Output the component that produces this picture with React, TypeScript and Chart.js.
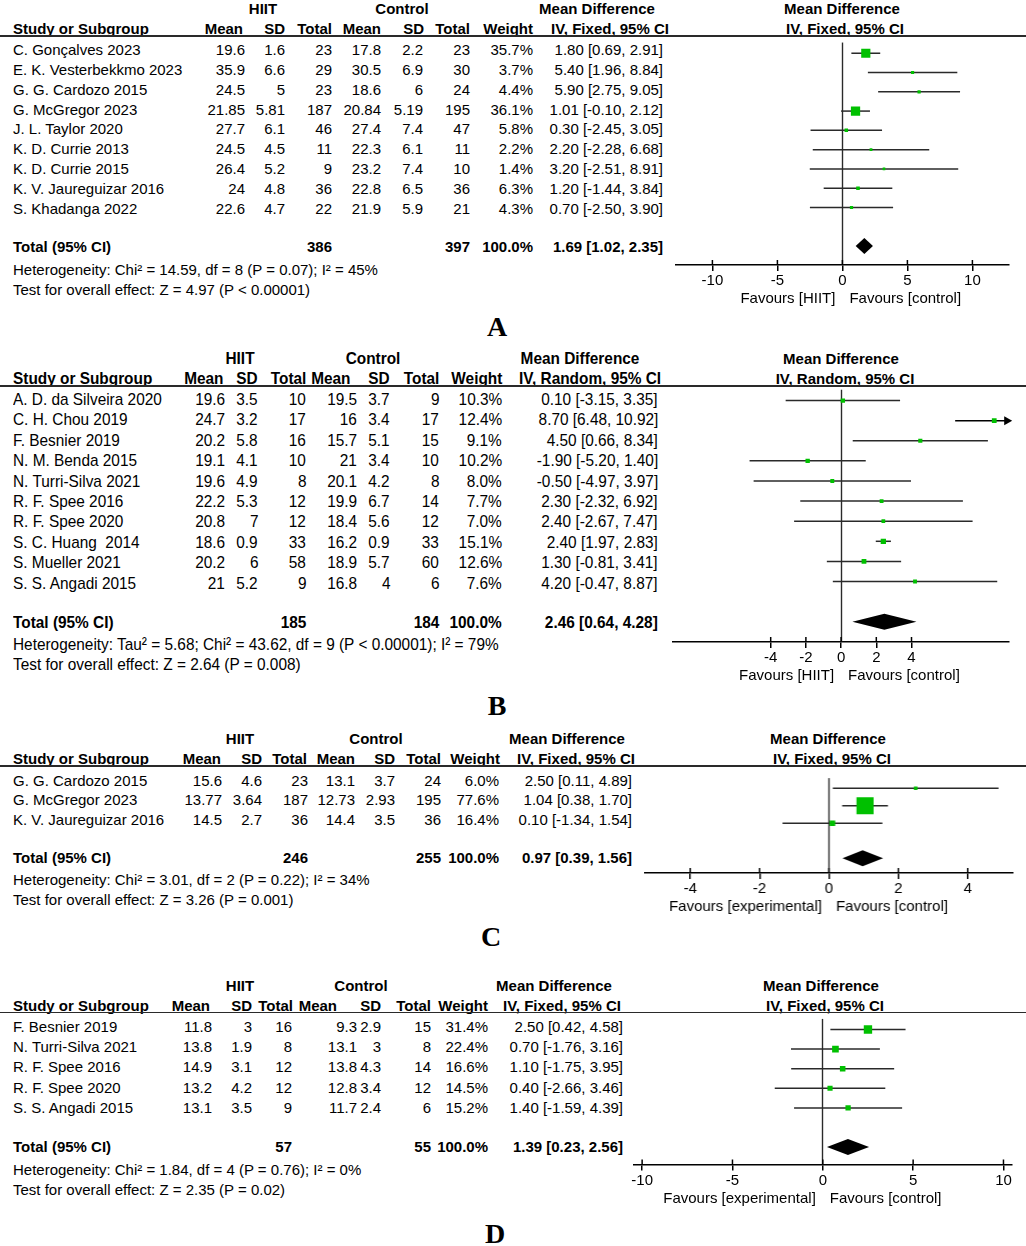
import React, { useEffect, useRef } from "react";
import { Chart, registerables } from "chart.js";

Chart.register(...registerables);

const W = 1026;
const H = 1246;
const SANS = '"Liberation Sans", Arial, Helvetica, sans-serif';
const SERIF = '"Liberation Serif", "Times New Roman", serif';
const GREEN = "#00c000";
const INK = "#2a2a2a";

// ---------------- Panel A ----------------
const A_STUDIES = [
  "C. Gonçalves 2023",
  "E. K. Vesterbekkmo 2023",
  "G. G. Cardozo 2015",
  "G. McGregor 2023",
  "J. L. Taylor 2020",
  "K. D. Currie 2013",
  "K. D. Currie 2015",
  "K. V. Jaureguizar 2016",
  "S. Khadanga 2022",
];
const A_HIIT_MEAN = [19.6, 35.9, 24.5, 21.85, 27.7, 24.5, 26.4, 24, 22.6];
const A_HIIT_SD = [1.6, 6.6, 5, 5.81, 6.1, 4.5, 5.2, 4.8, 4.7];
const A_HIIT_N = [23, 29, 23, 187, 46, 11, 9, 36, 22];
const A_CTRL_MEAN = [17.8, 30.5, 18.6, 20.84, 27.4, 22.3, 23.2, 22.8, 21.9];
const A_CTRL_SD = [2.2, 6.9, 6, 5.19, 7.4, 6.1, 7.4, 6.5, 5.9];
const A_CTRL_N = [23, 30, 24, 195, 47, 11, 10, 36, 21];
const A_WEIGHT = [35.7, 3.7, 4.4, 36.1, 5.8, 2.2, 1.4, 6.3, 4.3];
const A_MD = [1.8, 5.4, 5.9, 1.01, 0.3, 2.2, 3.2, 1.2, 0.7];
const A_LO = [0.69, 1.96, 2.75, -0.1, -2.45, -2.28, -2.51, -1.44, -2.5];
const A_HI = [2.91, 8.84, 9.05, 2.12, 3.05, 6.68, 8.91, 3.84, 3.9];
const A_TOTAL_N = [386, 397];
const A_POOLED = [1.69, 1.02, 2.35];
const A_TICKS = [-10, -5, 0, 5, 10];
const A_RANGE = [-12.8, 12.8];
const A_METHOD = "IV, Fixed, 95% CI";
const A_FAVOURS = ["Favours [HIIT]", "Favours [control]"];
const A_HET = "Heterogeneity: Chi² = 14.59, df = 8 (P = 0.07); I² = 45%";
const A_TEST = "Test for overall effect: Z = 4.97 (P < 0.00001)";

// ---------------- Panel B ----------------
const B_STUDIES = [
  "A. D. da Silveira 2020",
  "C. H. Chou 2019",
  "F. Besnier 2019",
  "N. M. Benda 2015",
  "N. Turri-Silva 2021",
  "R. F. Spee 2016",
  "R. F. Spee 2020",
  "S. C. Huang  2014",
  "S. Mueller 2021",
  "S. S. Angadi 2015",
];
const B_HIIT_MEAN = [19.6, 24.7, 20.2, 19.1, 19.6, 22.2, 20.8, 18.6, 20.2, 21];
const B_HIIT_SD = [3.5, 3.2, 5.8, 4.1, 4.9, 5.3, 7, 0.9, 6, 5.2];
const B_HIIT_N = [10, 17, 16, 10, 8, 12, 12, 33, 58, 9];
const B_CTRL_MEAN = [19.5, 16, 15.7, 21, 20.1, 19.9, 18.4, 16.2, 18.9, 16.8];
const B_CTRL_SD = [3.7, 3.4, 5.1, 3.4, 4.2, 6.7, 5.6, 0.9, 5.7, 4];
const B_CTRL_N = [9, 17, 15, 10, 8, 14, 12, 33, 60, 6];
const B_WEIGHT = [10.3, 12.4, 9.1, 10.2, 8.0, 7.7, 7.0, 15.1, 12.6, 7.6];
const B_MD = [0.1, 8.7, 4.5, -1.9, -0.5, 2.3, 2.4, 2.4, 1.3, 4.2];
const B_LO = [-3.15, 6.48, 0.66, -5.2, -4.97, -2.32, -2.67, 1.97, -0.81, -0.47];
const B_HI = [3.35, 10.92, 8.34, 1.4, 3.97, 6.92, 7.47, 2.83, 3.41, 8.87];
const B_TOTAL_N = [185, 184];
const B_POOLED = [2.46, 0.64, 4.28];
const B_TICKS = [-4, -2, 0, 2, 4];
const B_RANGE = [-9.55, 9.55];
const B_METHOD = "IV, Random, 95% CI";
const B_FAVOURS = ["Favours [HIIT]", "Favours [control]"];
const B_HET = "Heterogeneity: Tau² = 5.68; Chi² = 43.62, df = 9 (P < 0.00001); I² = 79%";
const B_TEST = "Test for overall effect: Z = 2.64 (P = 0.008)";

// ---------------- Panel C ----------------
const C_STUDIES = ["G. G. Cardozo 2015", "G. McGregor 2023", "K. V. Jaureguizar 2016"];
const C_HIIT_MEAN = [15.6, 13.77, 14.5];
const C_HIIT_SD = [4.6, 3.64, 2.7];
const C_HIIT_N = [23, 187, 36];
const C_CTRL_MEAN = [13.1, 12.73, 14.4];
const C_CTRL_SD = [3.7, 2.93, 3.5];
const C_CTRL_N = [24, 195, 36];
const C_WEIGHT = [6.0, 77.6, 16.4];
const C_MD = [2.5, 1.04, 0.1];
const C_LO = [0.11, 0.38, -1.34];
const C_HI = [4.89, 1.7, 1.54];
const C_TOTAL_N = [246, 255];
const C_POOLED = [0.97, 0.39, 1.56];
const C_TICKS = [-4, -2, 0, 2, 4];
const C_RANGE = [-5.3, 5.3];
const C_METHOD = "IV, Fixed, 95% CI";
const C_FAVOURS = ["Favours [experimental]", "Favours [control]"];
const C_HET = "Heterogeneity: Chi² = 3.01, df = 2 (P = 0.22); I² = 34%";
const C_TEST = "Test for overall effect: Z = 3.26 (P = 0.001)";

// ---------------- Panel D ----------------
const D_STUDIES = [
  "F. Besnier 2019",
  "N. Turri-Silva 2021",
  "R. F. Spee 2016",
  "R. F. Spee 2020",
  "S. S. Angadi 2015",
];
const D_HIIT_MEAN = [11.8, 13.8, 14.9, 13.2, 13.1];
const D_HIIT_SD = [3, 1.9, 3.1, 4.2, 3.5];
const D_HIIT_N = [16, 8, 12, 12, 9];
const D_CTRL_MEAN = [9.3, 13.1, 13.8, 12.8, 11.7];
const D_CTRL_SD = [2.9, 3, 4.3, 3.4, 2.4];
const D_CTRL_N = [15, 8, 14, 12, 6];
const D_WEIGHT = [31.4, 22.4, 16.6, 14.5, 15.2];
const D_MD = [2.5, 0.7, 1.1, 0.4, 1.4];
const D_LO = [0.42, -1.76, -1.75, -2.66, -1.59];
const D_HI = [4.58, 3.16, 3.95, 3.46, 4.39];
const D_TOTAL_N = [57, 55];
const D_POOLED = [1.39, 0.23, 2.56];
const D_TICKS = [-10, -5, 0, 5, 10];
const D_RANGE = [-10.45, 10.45];
const D_METHOD = "IV, Fixed, 95% CI";
const D_FAVOURS = ["Favours [experimental]", "Favours [control]"];
const D_HET = "Heterogeneity: Chi² = 1.84, df = 4 (P = 0.76); I² = 0%";
const D_TEST = "Test for overall effect: Z = 2.35 (P = 0.02)";

const COL_HEADERS = ["Mean", "SD", "Total", "Mean", "SD", "Total", "Weight"];

type Layout = {
  lineY: number;
  row0: number;
  step: number;
  axisY: number;
  axisL: number;
  axisR: number;
  hiitX: number;
  ctrlX: number;
  mdX: number;
  ivX: number;
  plotMdX: number;
  plotIvX: number;
  hdrRight: number[];
  valRight: number[];
  letter: string;
  letterX: number;
  letterY: number;
  condensed: boolean;
};

type Panel = {
  studies: string[];
  hm: number[];
  hs: number[];
  hn: number[];
  cm: number[];
  cs: number[];
  cn: number[];
  w: number[];
  md: number[];
  lo: number[];
  hi: number[];
  totalN: number[];
  pooled: number[];
  ticks: number[];
  range: number[];
  method: string;
  favours: string[];
  het: string;
  test: string;
  L: Layout;
};

const PANELS: Panel[] = [
  {
    studies: A_STUDIES, hm: A_HIIT_MEAN, hs: A_HIIT_SD, hn: A_HIIT_N,
    cm: A_CTRL_MEAN, cs: A_CTRL_SD, cn: A_CTRL_N, w: A_WEIGHT,
    md: A_MD, lo: A_LO, hi: A_HI, totalN: A_TOTAL_N, pooled: A_POOLED,
    ticks: A_TICKS, range: A_RANGE, method: A_METHOD, favours: A_FAVOURS,
    het: A_HET, test: A_TEST,
    L: {
      lineY: 36, row0: 47, step: 19.85, axisY: 265, axisL: 675.6, axisR: 1008.4,
      hiitX: 263, ctrlX: 402, mdX: 597, ivX: 610, plotMdX: 842, plotIvX: 845,
      hdrRight: [243, 285, 332, 381, 424, 470, 533],
      valRight: [245, 285, 332, 381, 423, 470, 533, 663],
      letter: "A", letterX: 497, letterY: 327, condensed: false,
    },
  },
  {
    studies: B_STUDIES, hm: B_HIIT_MEAN, hs: B_HIIT_SD, hn: B_HIIT_N,
    cm: B_CTRL_MEAN, cs: B_CTRL_SD, cn: B_CTRL_N, w: B_WEIGHT,
    md: B_MD, lo: B_LO, hi: B_HI, totalN: B_TOTAL_N, pooled: B_POOLED,
    ticks: B_TICKS, range: B_RANGE, method: B_METHOD, favours: B_FAVOURS,
    het: B_HET, test: B_TEST,
    L: {
      lineY: 386, row0: 397, step: 20.4, axisY: 642, axisL: 672.9, axisR: 1009.1,
      hiitX: 240, ctrlX: 373, mdX: 580, ivX: 590, plotMdX: 841, plotIvX: 845,
      hdrRight: [223, 258, 306, 350, 390, 439, 502],
      valRight: [225, 258, 306, 357, 390, 439, 502, 658],
      letter: "B", letterX: 497, letterY: 706, condensed: true,
    },
  },
  {
    studies: C_STUDIES, hm: C_HIIT_MEAN, hs: C_HIIT_SD, hn: C_HIIT_N,
    cm: C_CTRL_MEAN, cs: C_CTRL_SD, cn: C_CTRL_N, w: C_WEIGHT,
    md: C_MD, lo: C_LO, hi: C_HI, totalN: C_TOTAL_N, pooled: C_POOLED,
    ticks: C_TICKS, range: C_RANGE, method: C_METHOD, favours: C_FAVOURS,
    het: C_HET, test: C_TEST,
    L: {
      lineY: 766, row0: 777.5, step: 19.7, axisY: 873, axisL: 645.1, axisR: 1011.9,
      hiitX: 240, ctrlX: 376, mdX: 567, ivX: 576, plotMdX: 828, plotIvX: 832,
      hdrRight: [221, 262, 307, 355, 395, 441, 500],
      valRight: [222, 262, 308, 355, 395, 441, 499, 632],
      letter: "C", letterX: 491, letterY: 937, condensed: false,
    },
  },
  {
    studies: D_STUDIES, hm: D_HIIT_MEAN, hs: D_HIIT_SD, hn: D_HIIT_N,
    cm: D_CTRL_MEAN, cs: D_CTRL_SD, cn: D_CTRL_N, w: D_WEIGHT,
    md: D_MD, lo: D_LO, hi: D_HI, totalN: D_TOTAL_N, pooled: D_POOLED,
    ticks: D_TICKS, range: D_RANGE, method: D_METHOD, favours: D_FAVOURS,
    het: D_HET, test: D_TEST,
    L: {
      lineY: 1012.5, row0: 1023.5, step: 20.4, axisY: 1164, axisL: 633.7, axisR: 1011.3,
      hiitX: 240, ctrlX: 361, mdX: 554, ivX: 562, plotMdX: 821, plotIvX: 825,
      hdrRight: [210, 252, 293, 337, 381, 431, 488],
      valRight: [212, 252, 292, 357, 381, 431, 488, 623],
      letter: "D", letterX: 495, letterY: 1234, condensed: false,
    },
  },
];

const PADL = 12;
const PADR = 18;
const BOTTOM_H = 46;
const ROW_TEXT_DY = 3;
const TOTAL_TEXT_DY = 1.5;

function fmtCI(md: number, lo: number, hi: number) {
  return `${md.toFixed(2)} [${lo.toFixed(2)}, ${hi.toFixed(2)}]`;
}

type TP = {
  x: number;
  y: number;
  text: string;
  align?: "left" | "right" | "center";
  bold?: boolean;
  size?: number;
  family?: string;
  sx?: number;
};

function T({ x, y, text, align = "left", bold = false, size = 15, family = SANS, sx = 1 }: TP) {
  const style: React.CSSProperties = {
    position: "absolute",
    top: y - 10,
    height: 20,
    lineHeight: "20px",
    whiteSpace: "pre",
    fontFamily: family,
    fontSize: size,
    fontWeight: bold ? "bold" : "normal",
    color: "#000",
  };
  const sc = sx !== 1 ? ` scaleX(${sx})` : "";
  if (align === "left") {
    style.left = x;
    if (sc) {
      style.transform = sc.trim();
      style.transformOrigin = "left center";
    }
  } else if (align === "right") {
    style.right = W - x;
    if (sc) {
      style.transform = sc.trim();
      style.transformOrigin = "right center";
    }
  } else {
    style.left = x;
    style.transform = "translateX(-50%)" + sc;
    style.transformOrigin = "center center";
  }
  return <div style={style}>{text}</div>;
}

function PanelText({ p }: { p: Panel }) {
  const L = p.L;
  const n = p.studies.length;
  const els: React.ReactNode[] = [];
  const gY = L.lineY - 27;
  const hY = L.lineY - 7;
  const tsize = L.condensed ? 17 : 15;
  const tsx = L.condensed ? 0.905 : 1;
  let k = 0;
  const add = (props: TP) => els.push(<T key={k++} {...props} />);
  const addT = (props: TP) => add({ size: tsize, sx: tsx, ...props });

  addT({ x: L.hiitX, y: gY, text: "HIIT", align: "center", bold: true });
  addT({ x: L.ctrlX, y: gY, text: "Control", align: "center", bold: true });
  addT({ x: L.mdX, y: gY, text: "Mean Difference", align: "center", bold: true });
  add({ x: L.plotMdX, y: gY, text: "Mean Difference", align: "center", bold: true });

  addT({ x: 13, y: hY, text: "Study or Subgroup", bold: true });
  COL_HEADERS.forEach((h, i) => addT({ x: L.hdrRight[i], y: hY, text: h, align: "right", bold: true }));
  addT({ x: L.ivX, y: hY, text: p.method, align: "center", bold: true });
  add({ x: L.plotIvX, y: hY, text: p.method, align: "center", bold: true });

  for (let i = 0; i < n; i++) {
    const y = L.row0 + i * L.step + ROW_TEXT_DY;
    const vals = [
      String(p.hm[i]),
      String(p.hs[i]),
      String(p.hn[i]),
      String(p.cm[i]),
      String(p.cs[i]),
      String(p.cn[i]),
      p.w[i].toFixed(1) + "%",
      fmtCI(p.md[i], p.lo[i], p.hi[i]),
    ];
    addT({ x: 13, y, text: p.studies[i] });
    vals.forEach((v, j) => addT({ x: L.valRight[j], y, text: v, align: "right" }));
  }

  const ty = L.row0 + (n + 1) * L.step + TOTAL_TEXT_DY;
  addT({ x: 13, y: ty, text: "Total (95% CI)", bold: true });
  addT({ x: L.valRight[2], y: ty, text: String(p.totalN[0]), align: "right", bold: true });
  addT({ x: L.valRight[5], y: ty, text: String(p.totalN[1]), align: "right", bold: true });
  addT({ x: L.valRight[6], y: ty, text: "100.0%", align: "right", bold: true });
  addT({
    x: L.valRight[7],
    y: ty,
    text: fmtCI(p.pooled[0], p.pooled[1], p.pooled[2]),
    align: "right",
    bold: true,
  });
  addT({ x: 13, y: ty + 22.5, text: p.het });
  addT({ x: 13, y: ty + 42.5, text: p.test });
  add({ x: L.letterX, y: L.letterY, text: L.letter, align: "center", bold: true, size: 28, family: SERIF });

  return (
    <>
      {els}
      <div
        style={{
          position: "absolute",
          left: 0,
          width: W,
          top: L.lineY - 0.75,
          height: 1.5,
          background: INK,
        }}
      />
    </>
  );
}

function Forest({ p }: { p: Panel }) {
  const ref = useRef<HTMLCanvasElement>(null);
  const L = p.L;
  const left = L.axisL - PADL;
  const width = L.axisR - L.axisL + PADL + PADR;
  const top = L.lineY;
  const height = L.axisY - L.lineY + BOTTOM_H;

  useEffect(() => {
    const n = p.md.length;
    const yTop = (L.lineY - L.row0) / L.step;
    const yBot = (L.axisY - L.row0) / L.step;

    const forestPlugin = {
      id: "forest",
      beforeDatasetsDraw(chart: any) {
        const { ctx, chartArea } = chart;
        const xs = chart.scales.x;
        const ys = chart.scales.y;
        const x0 = Math.floor(xs.getPixelForValue(0)) + 0.5;
        ctx.save();
        ctx.strokeStyle = INK;
        ctx.lineWidth = 1.4;
        ctx.beginPath();
        ctx.moveTo(x0, chartArea.top);
        ctx.lineTo(x0, chartArea.bottom);
        ctx.stroke();

        ctx.lineWidth = 1.5;
        for (let i = 0; i < n; i++) {
          const py = ys.getPixelForValue(i);
          const over = p.hi[i] > xs.max;
          const lo = Math.max(p.lo[i], xs.min);
          const hi = Math.min(p.hi[i], xs.max);
          const xl = xs.getPixelForValue(lo);
          const xr = xs.getPixelForValue(hi);
          ctx.strokeStyle = over ? "#000" : INK;
          ctx.beginPath();
          ctx.moveTo(xl, py);
          ctx.lineTo(over ? xr - 4 : xr, py);
          ctx.stroke();
          if (over) {
            ctx.fillStyle = "#000";
            ctx.beginPath();
            ctx.moveTo(xr + 3, py);
            ctx.lineTo(xr - 5, py - 4.5);
            ctx.lineTo(xr - 5, py + 4.5);
            ctx.closePath();
            ctx.fill();
          }
        }

        const ty = ys.getPixelForValue(n + 1);
        const [pm, pl, ph] = p.pooled;
        ctx.fillStyle = "#000";
        ctx.beginPath();
        ctx.moveTo(xs.getPixelForValue(pl), ty);
        ctx.lineTo(xs.getPixelForValue(pm), ty - 8);
        ctx.lineTo(xs.getPixelForValue(ph), ty);
        ctx.lineTo(xs.getPixelForValue(pm), ty + 8);
        ctx.closePath();
        ctx.fill();
        ctx.restore();
      },
      afterDraw(chart: any) {
        const { ctx, chartArea } = chart;
        const xs = chart.scales.x;
        const x0 = xs.getPixelForValue(0);
        ctx.save();
        ctx.strokeStyle = "#000";
        ctx.lineWidth = 1.5;
        xs.ticks.forEach((t: any) => {
          const px = xs.getPixelForValue(t.value);
          ctx.beginPath();
          ctx.moveTo(px, chartArea.bottom - 5);
          ctx.lineTo(px, chartArea.bottom);
          ctx.stroke();
        });
        ctx.fillStyle = "#000";
        ctx.font = `15px ${SANS}`;
        ctx.textBaseline = "middle";
        const fy = chartArea.bottom + 34;
        ctx.textAlign = "right";
        ctx.fillText(p.favours[0], x0 - 7, fy);
        ctx.textAlign = "left";
        ctx.fillText(p.favours[1], x0 + 7, fy);
        ctx.restore();
      },
    };

    const chart = new Chart(ref.current as HTMLCanvasElement, {
      type: "scatter",
      data: {
        datasets: [
          {
            data: p.md.map((v, i) => ({ x: v, y: i })),
            pointStyle: "rect",
            pointRadius: p.w.map((w) => (2.4 + 0.19 * w) / Math.SQRT2),
            pointHoverRadius: p.w.map((w) => (2.4 + 0.19 * w) / Math.SQRT2),
            backgroundColor: GREEN,
            borderColor: GREEN,
            borderWidth: 0,
          },
        ],
      },
      options: {
        animation: false,
        responsive: true,
        maintainAspectRatio: false,
        events: [],
        layout: { padding: { left: PADL, right: PADR, top: 0, bottom: 0 } },
        plugins: { legend: { display: false }, tooltip: { enabled: false } },
        scales: {
          x: {
            type: "linear",
            min: p.range[0],
            max: p.range[1],
            afterBuildTicks: (s: any) => {
              s.ticks = p.ticks.map((v) => ({ value: v }));
            },
            afterFit: (s: any) => {
              s.height = BOTTOM_H;
            },
            grid: {
              display: true,
              drawOnChartArea: false,
              drawTicks: true,
              tickLength: 6,
              color: "#000",
              lineWidth: 1.5,
            },
            border: { display: true, color: "#000", width: 1.5 },
            ticks: {
              color: "#000",
              font: { family: SANS, size: 15 },
              padding: 1,
              maxRotation: 0,
              autoSkip: false,
              callback: (v: any) => String(v),
            },
          },
          y: {
            type: "linear",
            display: false,
            reverse: true,
            min: yTop,
            max: yBot,
          },
        },
      },
      plugins: [forestPlugin],
    } as any);
    return () => chart.destroy();
  }, []);

  return (
    <div style={{ position: "absolute", left, top, width, height }}>
      <canvas ref={ref} />
    </div>
  );
}

export default function App() {
  return (
    <div
      style={{
        position: "absolute",
        left: 0,
        top: 0,
        width: W,
        height: H,
        background: "#fff",
        overflow: "hidden",
      }}
    >
      {PANELS.map((p, i) => (
        <React.Fragment key={i}>
          <PanelText p={p} />
          <Forest p={p} />
        </React.Fragment>
      ))}
    </div>
  );
}
